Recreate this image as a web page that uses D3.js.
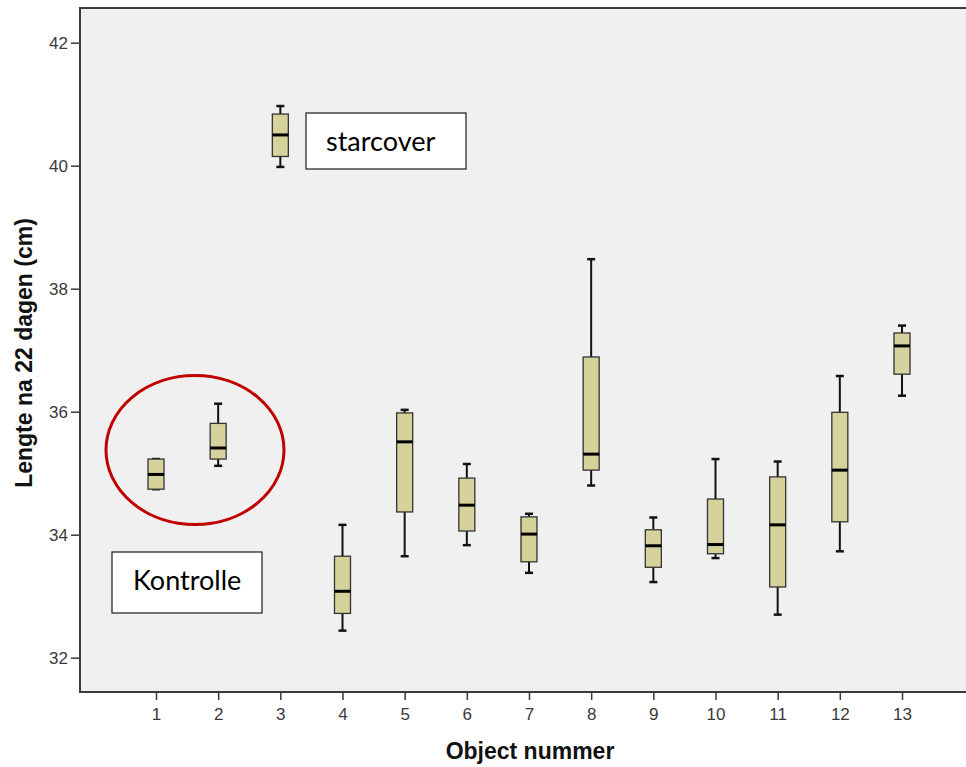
<!DOCTYPE html>
<html>
<head>
<meta charset="utf-8">
<script src="https://cdnjs.cloudflare.com/ajax/libs/d3/7.8.5/d3.min.js"></script>
<style>
  html, body { margin: 0; padding: 0; background: #ffffff; }
  svg { display: block; }
</style>
</head>
<body>
<svg id="chart" width="966" height="767"></svg>
<script>
// ---- data ----
const objects = [1, 2, 3, 4, 5, 6, 7, 8, 9, 10, 11, 12, 13];
const minVals    = [34.74, 35.12, 39.98, 32.44, 33.65, 33.83, 33.38, 34.80, 33.23, 33.62, 32.70, 33.73, 36.26];
const q1Vals     = [34.74, 35.23, 40.15, 32.72, 34.37, 34.06, 33.56, 35.05, 33.47, 33.69, 33.15, 34.21, 36.61];
const medianVals = [34.98, 35.41, 40.50, 33.08, 35.51, 34.48, 34.01, 35.31, 33.82, 33.84, 34.16, 35.05, 37.07];
const q3Vals     = [35.23, 35.81, 40.84, 33.65, 35.98, 34.92, 34.29, 36.89, 34.08, 34.58, 34.94, 35.99, 37.28];
const maxVals    = [35.23, 36.13, 40.97, 34.16, 36.03, 35.15, 34.34, 38.48, 34.28, 35.23, 35.19, 36.58, 37.40];
const yTicks = [32, 34, 36, 38, 40, 42];
const xTitle = "Object nummer";
const yTitle = "Lengte na 22 dagen (cm)";
const noteStar = "starcover";
const noteControl = "Kontrolle";

const boxes = objects.map((o, i) => ({
  obj: o, min: minVals[i], q1: q1Vals[i], med: medianVals[i], q3: q3Vals[i], max: maxVals[i]
}));

// ---- layout ----
const svg = d3.select("#chart");
const frame = { left: 80, top: 8, right: 990, bottom: 692 };

const x = d3.scaleLinear().domain([1, 13]).range([156, 902]);
const y = d3.scaleLinear().domain([32, 42]).range([657.7, 42.7]);

// plot background
svg.append("rect")
  .attr("x", frame.left).attr("y", frame.top)
  .attr("width", frame.right - frame.left).attr("height", frame.bottom - frame.top)
  .attr("fill", "#f0f0f0").attr("stroke", "#3a3a3a").attr("stroke-width", 2);

// y axis
const yAxis = d3.axisLeft(y).tickValues(yTicks).tickSize(9).tickPadding(3).tickFormat(d3.format("d"));
const gy = svg.append("g").attr("transform", `translate(${frame.left},0)`).call(yAxis);
gy.select(".domain").remove();
gy.selectAll(".tick line").attr("stroke", "#3a3a3a").attr("stroke-width", 1.5);
gy.selectAll(".tick text").attr("fill", "#3a3a3a").style("font-family", "'Liberation Sans', Arial, sans-serif").style("font-size", "17px");

// x axis
const xAxis = d3.axisBottom(x).tickValues(objects).tickSize(8).tickPadding(8).tickFormat(d3.format("d"));
const gx = svg.append("g").attr("transform", `translate(0,${frame.bottom})`).call(xAxis);
gx.select(".domain").remove();
gx.selectAll(".tick line").attr("stroke", "#3a3a3a").attr("stroke-width", 1.5);
gx.selectAll(".tick text").attr("fill", "#3a3a3a").style("font-family", "'Liberation Sans', Arial, sans-serif").style("font-size", "17px");

// axis titles
svg.append("text")
  .attr("x", 530).attr("y", 759)
  .attr("text-anchor", "middle")
  .style("font-family", "'Liberation Sans', Arial, sans-serif")
  .style("font-weight", "bold").style("font-size", "23px").attr("fill", "#111")
  .text(xTitle);

svg.append("text")
  .attr("transform", "translate(32,353) rotate(-90)")
  .attr("text-anchor", "middle")
  .style("font-family", "'Liberation Sans', Arial, sans-serif")
  .style("font-weight", "bold").style("font-size", "23px").attr("fill", "#111")
  .text(yTitle);

// boxes
const bw = 16, cap = 8;
const g = svg.append("g");
const bg = g.selectAll("g.box").data(boxes).join("g").attr("class", "box");

bg.append("line")
  .attr("x1", d => x(d.obj)).attr("x2", d => x(d.obj))
  .attr("y1", d => y(d.max)).attr("y2", d => y(d.q3))
  .attr("stroke", "#111").attr("stroke-width", 2);
bg.append("line")
  .attr("x1", d => x(d.obj)).attr("x2", d => x(d.obj))
  .attr("y1", d => y(d.q1)).attr("y2", d => y(d.min))
  .attr("stroke", "#111").attr("stroke-width", 2);
bg.append("line")
  .attr("x1", d => x(d.obj) - cap / 2).attr("x2", d => x(d.obj) + cap / 2)
  .attr("y1", d => y(d.max)).attr("y2", d => y(d.max))
  .attr("stroke", "#111").attr("stroke-width", 2.5);
bg.append("line")
  .attr("x1", d => x(d.obj) - cap / 2).attr("x2", d => x(d.obj) + cap / 2)
  .attr("y1", d => y(d.min)).attr("y2", d => y(d.min))
  .attr("stroke", "#111").attr("stroke-width", 2.5);
bg.append("rect")
  .attr("x", d => x(d.obj) - bw / 2).attr("width", bw)
  .attr("y", d => y(d.q3)).attr("height", d => y(d.q1) - y(d.q3))
  .attr("fill", "#d6d29c").attr("stroke", "#333").attr("stroke-width", 1.3);
bg.append("line")
  .attr("x1", d => x(d.obj) - bw / 2).attr("x2", d => x(d.obj) + bw / 2)
  .attr("y1", d => y(d.med)).attr("y2", d => y(d.med))
  .attr("stroke", "#000").attr("stroke-width", 3);

// annotations
function note(x0, y0, w, h, label, tx, ty) {
  svg.append("rect").attr("x", x0).attr("y", y0).attr("width", w).attr("height", h)
    .attr("fill", "#ffffff").attr("stroke", "#1a1a1a").attr("stroke-width", 1.2);
  svg.append("text").attr("x", tx).attr("y", ty)
    .style("font-family", "Lato, 'Open Sans', sans-serif").style("font-size", "27px")
    .attr("fill", "#000").text(label);
}
note(306, 113, 160, 56, noteStar, 326, 151);
note(112, 552, 150, 61, noteControl, 133, 590);

// red ellipse
svg.append("ellipse")
  .attr("cx", 195).attr("cy", 450).attr("rx", 89).attr("ry", 74.5)
  .attr("fill", "none").attr("stroke", "#c00000").attr("stroke-width", 3);
</script>
</body>
</html>
